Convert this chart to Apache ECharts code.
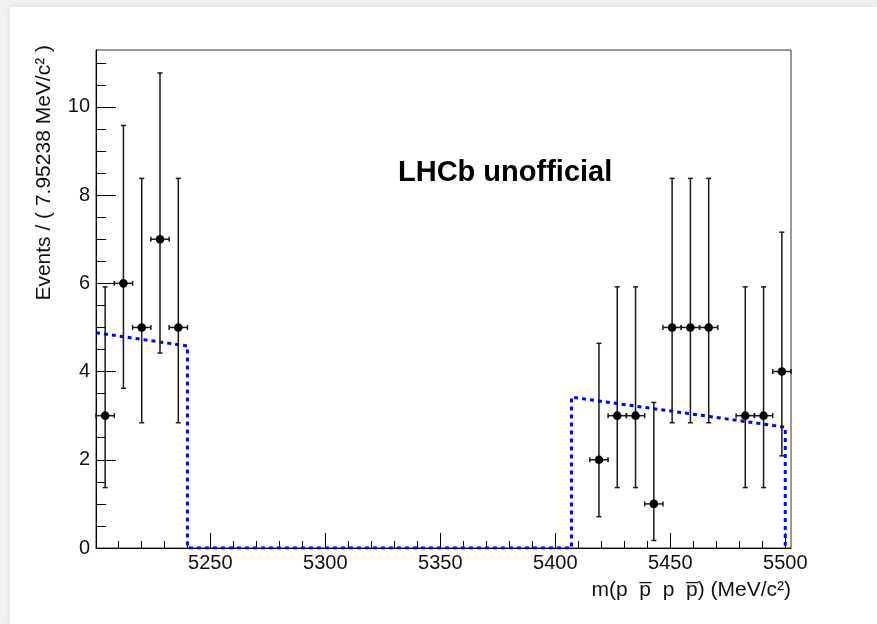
<!DOCTYPE html>
<html lang="en">
<head>
<meta charset="UTF-8">
<title>m(pp̄pp̄) fit</title>
<script src="https://cdn.jsdelivr.net/npm/echarts@6/dist/echarts.min.js"></script>
<style type="text/css">
    body { margin: 0; background: #f1f1f1; }
    #chart {
        position: absolute;
        left: 10px;
        top: 7px;
        width: 867px;
        height: 617px;
        background: #fff;
        box-shadow: 0 0 6px rgba(0,0,0,0.08);
    }
</style>
</head>
<body>
<div id="chart"></div>
<script type="text/javascript">
    // binning
    var binStart = 5200.3;
    var binWidth = 7.95238;

    // data points (bin index, events, poisson interval)
    var binIndex = [0, 1, 2, 3, 4, 27, 28, 29, 30, 31, 32, 33, 35, 36, 37];
    var counts = [3, 6, 5, 7, 5, 2, 3, 3, 1, 5, 5, 5, 3, 3, 4];
    var lowerBound = [1.37, 3.62, 2.84, 4.42, 2.84, 0.71, 1.37, 1.37, 0.17, 2.84, 2.84, 2.84, 1.37, 1.37, 2.09];
    var upperBound = [5.92, 9.58, 8.38, 10.77, 8.38, 4.64, 5.92, 5.92, 3.30, 8.38, 8.38, 8.38, 5.92, 5.92, 7.16];

    // fitted background (sidebands only)
    var fitX = [5200.3, 5240.06, 5240.06, 5407.06, 5407.06, 5500, 5500];
    var fitY = [4.88, 4.58, 0, 0, 3.42, 2.74, 0];

    var xTickLabels = [5250, 5300, 5350, 5400, 5450, 5500];
    var yTickLabels = [0, 2, 4, 6, 8, 10];

    var xMinor = [];
    for (var t = 5210; t <= 5500; t += 10) xMinor.push(t);
    var yMinor = [];
    for (var u = 0; u <= 11; u += 0.5) yMinor.push(u);

    var points = [];
    for (var i = 0; i < binIndex.length; i++) {
        var center = binStart + (binIndex[i] + 0.5) * binWidth;
        points.push([center, counts[i], lowerBound[i], upperBound[i]]);
    }
    var fitLine = fitX.map(function (x, i) { return [x, fitY[i]]; });

    var font = 'Liberation Sans, Arial, sans-serif';
    var xMin = binStart, xMax = binStart + 38 * binWidth;
    var yMax = 11.29;
    var plain = function (v) { return String(v); };
    var myChart = echarts.init(document.getElementById('chart'));

    option = {
        animation: false,
        grid: {
            left: 86, right: 86, top: 43, bottom: 76,
            show: true, borderColor: '#333', borderWidth: 1, backgroundColor: 'transparent'
        },
        xAxis: [
            {
                type: 'value', position: 'bottom', min: xMin, max: xMax,
                axisLine: { show: true, onZero: false, lineStyle: { color: '#000', width: 1 } },
                axisTick: { show: true, inside: true, length: 15, customValues: xTickLabels, lineStyle: { color: '#000' } },
                axisLabel: { show: true, margin: 5, color: '#111', fontSize: 20, fontFamily: font, customValues: xTickLabels, formatter: plain },
                splitLine: { show: false }
            },
            {
                type: 'value', position: 'bottom', min: xMin, max: xMax,
                axisLine: { show: false, onZero: false },
                axisTick: { show: true, inside: true, length: 7, customValues: xMinor, lineStyle: { color: '#000' } },
                axisLabel: { show: false },
                splitLine: { show: false }
            }
        ],
        yAxis: [
            {
                type: 'value', position: 'left', min: 0, max: yMax,
                axisLine: { show: true, onZero: false, lineStyle: { color: '#000', width: 1 } },
                axisTick: { show: true, inside: true, length: 20, customValues: yTickLabels, lineStyle: { color: '#000' } },
                axisLabel: { show: true, margin: 6, color: '#111', fontSize: 20, fontFamily: font, customValues: yTickLabels, formatter: plain },
                splitLine: { show: false }
            },
            {
                type: 'value', position: 'left', min: 0, max: yMax,
                axisLine: { show: false, onZero: false },
                axisTick: { show: true, inside: true, length: 10, customValues: yMinor, lineStyle: { color: '#000' } },
                axisLabel: { show: false },
                splitLine: { show: false }
            }
        ],
        series: [
            {
                name: 'fit',
                type: 'line',
                data: fitLine,
                symbol: 'none',
                z: 5,
                lineStyle: { color: '#0000ff', width: 3, type: [4, 4], cap: 'butt' }
            },
            {
                name: 'data',
                type: 'custom',
                z: 6,
                data: points,
                renderItem: function (params, api) {
                    var x = api.value(0), y = api.value(1);
                    var c = api.coord([x, y]);
                    var top = api.coord([x, api.value(3)]);
                    var bot = api.coord([x, api.value(2)]);
                    var l = api.coord([x - binWidth / 2, y]);
                    var r = api.coord([x + binWidth / 2, y]);
                    var st = { stroke: '#1a1a1a', lineWidth: 1.5 };
                    return {
                        type: 'group',
                        children: [
                            { type: 'line', shape: { x1: c[0], y1: top[1], x2: c[0], y2: bot[1] }, style: st },
                            { type: 'line', shape: { x1: c[0] - 2.5, y1: top[1], x2: c[0] + 2.5, y2: top[1] }, style: st },
                            { type: 'line', shape: { x1: c[0] - 2.5, y1: bot[1], x2: c[0] + 2.5, y2: bot[1] }, style: st },
                            { type: 'line', shape: { x1: l[0], y1: c[1], x2: r[0], y2: c[1] }, style: st },
                            { type: 'line', shape: { x1: l[0], y1: c[1] - 2.5, x2: l[0], y2: c[1] + 2.5 }, style: st },
                            { type: 'line', shape: { x1: r[0], y1: c[1] - 2.5, x2: r[0], y2: c[1] + 2.5 }, style: st },
                            { type: 'circle', shape: { cx: c[0], cy: c[1], r: 4.3 }, style: { fill: '#000' } }
                        ]
                    };
                }
            }
        ],
        graphic: [
            {
                type: 'text', left: 388, top: 151,
                style: { text: 'LHCb unofficial', font: 'bold 29px ' + font, fill: '#000' }
            },
            {
                type: 'text', x: 34, y: 38, rotation: Math.PI / 2,
                style: {
                    text: 'Events / ( 7.95238 MeV/c\u00B2 )', font: '21px ' + font, fill: '#111',
                    align: 'right', verticalAlign: 'middle'
                }
            },
            {
                type: 'text', x: 781, y: 583,
                style: {
                    text: 'm(p  p\u0305  p  p\u0305) (MeV/c\u00B2)', font: '21px ' + font, fill: '#111',
                    align: 'right', verticalAlign: 'middle'
                }
            }
        ]
    };
    myChart.setOption(option);
</script>
</body>
</html>
